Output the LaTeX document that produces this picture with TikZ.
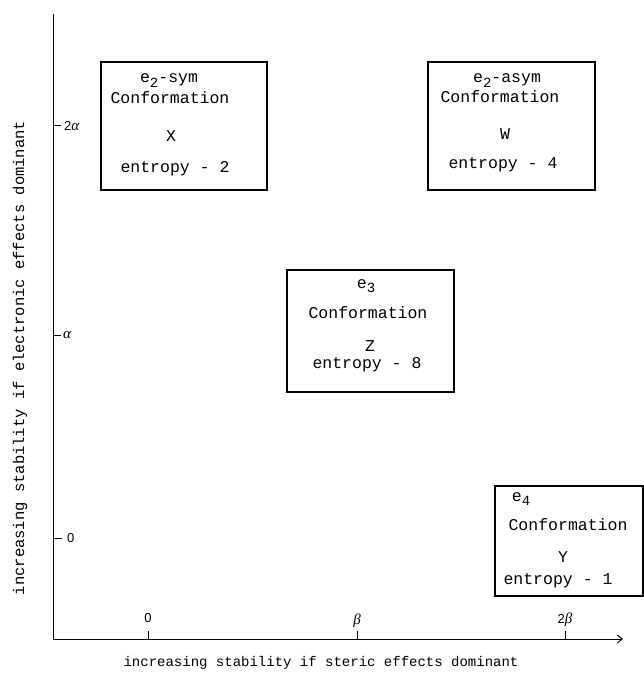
\documentclass[tikz,border=0pt]{standalone}
\usepackage{fontspec}
\setmainfont{Liberation Serif}
\newfontfamily\twfont{Liberation Mono}
\newfontfamily\tickfont{Liberation Sans}
\usetikzlibrary{arrows.meta}
\newcommand\lowr[1]{\raisebox{-4.5pt}{\fontsize{14}{14}\selectfont #1}}
\newcommand\grk[1]{{\rmfamily\itshape\fontsize{15}{15}\selectfont #1}}
\tikzset{
  axisline/.style={line width=0.9pt},
  tickline/.style={line width=1pt},
  confbox/.style={draw, line width=1.1pt, inner sep=0pt},
  boxline/.style={anchor=base, inner sep=0pt, font=\twfont\fontsize{16.5}{19}\selectfont},
  axislabel/.style={inner sep=0pt, font=\twfont\fontsize{14}{16}\selectfont},
  ticklabel/.style={inner sep=0pt, font=\tickfont\fontsize{13}{15}\selectfont},
}
\begin{document}
\begin{tikzpicture}[x=1pt,y=-1pt]
\useasboundingbox (0,0) rectangle (644,679);
% axes
\coordinate (O) at (53,639);
\coordinate (ytop) at (53,14);
\coordinate (xend) at (623,639);
\draw[axisline] (ytop) -- (O);
\draw[axisline, -{Straight Barb[length=5pt,width=8pt]}] (O) -- (xend);
% y ticks
\coordinate (ya2) at (53,126); \coordinate (ya2e) at (61,126);
\coordinate (ya1) at (53,335); \coordinate (ya1e) at (61,335);
\coordinate (ya0) at (53,538); \coordinate (ya0e) at (62,538);
\draw[tickline] (ya2) -- (ya2e);
\draw[tickline] (ya1) -- (ya1e);
\draw[tickline] (ya0) -- (ya0e);
\node[ticklabel, anchor=west] (l2a) at (64,126) {2\grk{α}};
\node[ticklabel, anchor=west] (l1a) at (63,335) {\grk{α}};
\node[ticklabel, anchor=west] (l0a) at (67,538) {0};
% x ticks
\coordinate (xb0) at (148,639); \coordinate (xb0e) at (148,631);
\coordinate (xb1) at (357,639); \coordinate (xb1e) at (357,631);
\coordinate (xb2) at (565,639); \coordinate (xb2e) at (565,631);
\draw[tickline] (xb0) -- (xb0e);
\draw[tickline] (xb1) -- (xb1e);
\draw[tickline] (xb2) -- (xb2e);
\node[ticklabel] (l0b) at (148,618) {0};
\node[ticklabel] (l1b) at (357,621) {\grk{β}};
\node[ticklabel] (l2b) at (565,620) {2\grk{β}};
% axis labels
\node[axislabel] (xlab) at (321,663) {increasing stability if steric effects dominant};
\node[axislabel, rotate=90, font=\twfont\fontsize{15.5}{17}\selectfont] (ylab) at (20,358) {increasing stability if electronic effects dominant};
% boxes
\node[confbox, minimum width=166pt, minimum height=128pt] (X) at (184,126) {};
\node[confbox, minimum width=167pt, minimum height=128pt] (W) at (511.5,126) {};
\node[confbox, minimum width=167pt, minimum height=122pt] (Z) at (370.5,331) {};
\node[confbox, minimum width=148pt, minimum height=110pt] (Y) at (569,541) {};
% X text
\node[boxline] (X1) at (169,83) {e\lowr{2}-sym};
\node[boxline] (X2) at (170,104) {Conformation};
\node[boxline] (X3) at (171,142) {X};
\node[boxline] (X4) at (175,172) {entropy - 2};
% W text
\node[boxline] (W1) at (507,83) {e\lowr{2}-asym};
\node[boxline] (W2) at (500,103) {Conformation};
\node[boxline] (W3) at (505,140) {W};
\node[boxline] (W4) at (503,168) {entropy - 4};
% Z text
\node[boxline] (Z1) at (366,288) {e\lowr{3}};
\node[boxline] (Z2) at (368,318) {Conformation};
\node[boxline] (Z3) at (370,351) {Z};
\node[boxline] (Z4) at (367,368) {entropy - 8};
% Y text
\node[boxline] (Y1) at (521,501) {e\lowr{4}};
\node[boxline] (Y2) at (568,530) {Conformation};
\node[boxline] (Y3) at (563,562) {Y};
\node[boxline] (Y4) at (558,584) {entropy - 1};
\end{tikzpicture}
\end{document}
